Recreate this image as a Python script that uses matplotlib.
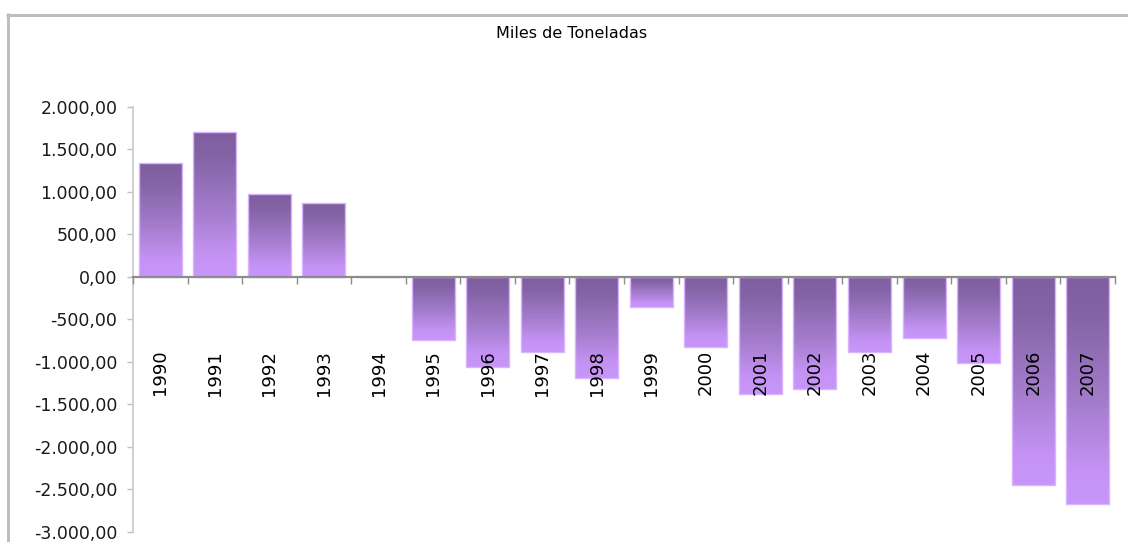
import numpy as np
import matplotlib
matplotlib.use("Agg")
import matplotlib.pyplot as plt
from matplotlib.colors import LinearSegmentedColormap
from matplotlib.lines import Line2D
from matplotlib.ticker import FuncFormatter

# ---- data ----
years = ["1990", "1991", "1992", "1993", "1994", "1995", "1996", "1997", "1998",
         "1999", "2000", "2001", "2002", "2003", "2004", "2005", "2006", "2007"]
values = [1340, 1700, 975, 875, 0, -745, -1065, -890, -1185,
          -357, -825, -1380, -1325, -890, -722, -1015, -2453, -2672]
title = "Miles de Toneladas"
y_ticks = [2000, 1500, 1000, 500, 0, -500, -1000, -1500, -2000, -2500, -3000]

W, H, DPI = 1128, 542, 100
fig = plt.figure(figsize=(W / DPI, H / DPI), dpi=DPI)
fig.patch.set_facecolor("white")

# frame (gray border at top and left only; cut at right/bottom)
lw = 3 * 72 / DPI
fig.add_artist(Line2D([6 / W, 1.05], [1 - 14.5 / H, 1 - 14.5 / H],
                      transform=fig.transFigure, color="#BEBEBE", linewidth=lw,
                      solid_capstyle="butt"))
fig.add_artist(Line2D([7.5 / W, 7.5 / W], [1 - 13 / H, -0.05],
                      transform=fig.transFigure, color="#BEBEBE", linewidth=lw,
                      solid_capstyle="butt"))

ax = fig.add_axes([133 / W, (H - 531.7) / H, (1115 - 133) / W, (531.7 - 107) / H])
ax.set_facecolor("none")

x = np.arange(len(years))
bars = ax.bar(x, values, width=0.79, facecolor="none",
              edgecolor="#D9B3FF", linewidth=1.0, zorder=3)

cmap = LinearSegmentedColormap.from_list(
    "grad", [(0.0, "#7E5E9E"), (0.18, "#8464A6"), (0.55, "#A47CCC"),
             (0.85, "#C592F4"), (1.0, "#C896FA")])
grad = np.linspace(0, 1, 256).reshape(-1, 1)
for b in bars:
    x0, y0 = b.get_x(), b.get_y()
    w, h = b.get_width(), b.get_height()
    if h == 0:
        continue
    ylo, yhi = min(y0, y0 + h), max(y0, y0 + h)
    im = ax.imshow(grad, cmap=cmap, aspect="auto", origin="upper",
                   extent=[x0, x0 + w, ylo, yhi], zorder=2,
                   interpolation="bilinear")
    im.set_clip_path(b)

ax.set_xlim(-0.5, len(years) - 0.5)
ax.set_ylim(-3000, 2000)

# spines
for s in ["top", "right"]:
    ax.spines[s].set_visible(False)
ax.spines["left"].set_color("#C8C8C8")
ax.spines["left"].set_linewidth(1.2)
ax.spines["bottom"].set_position(("data", 0))
ax.spines["bottom"].set_color("#8C8C8C")
ax.spines["bottom"].set_linewidth(1.6)
ax.spines["bottom"].set_zorder(4)

# y ticks
def fmt(v, pos):
    s = f"{abs(v):,.2f}".replace(",", "X").replace(".", ",").replace("X", ".")
    return ("-" if v < 0 else "") + s
ax.set_yticks(y_ticks)
ax.yaxis.set_major_formatter(FuncFormatter(fmt))
ax.tick_params(axis="y", length=4.3, width=1, color="#C0C0C0", pad=7,
               labelsize=12.5, labelcolor="#1A1A1A")

# x ticks: boundaries (major) and labels (minor)
ax.set_xticks(np.arange(len(years) + 1) - 0.5)
ax.set_xticklabels([])
ax.tick_params(axis="x", which="major", length=5, width=1, color="#8C8C8C",
               direction="out")
ax.set_xticks(x, years, minor=True)
ax.tick_params(axis="x", which="minor", length=0, pad=52.5, labelsize=13,
               labelrotation=90, labelcolor="#000000")
ax.xaxis.set_zorder(5)

fig.text(572 / W, 1 - 34 / H, title, ha="center", va="center",
         fontsize=11.5, color="#000000")

fig.savefig("out.png", dpi=DPI, facecolor="white")
